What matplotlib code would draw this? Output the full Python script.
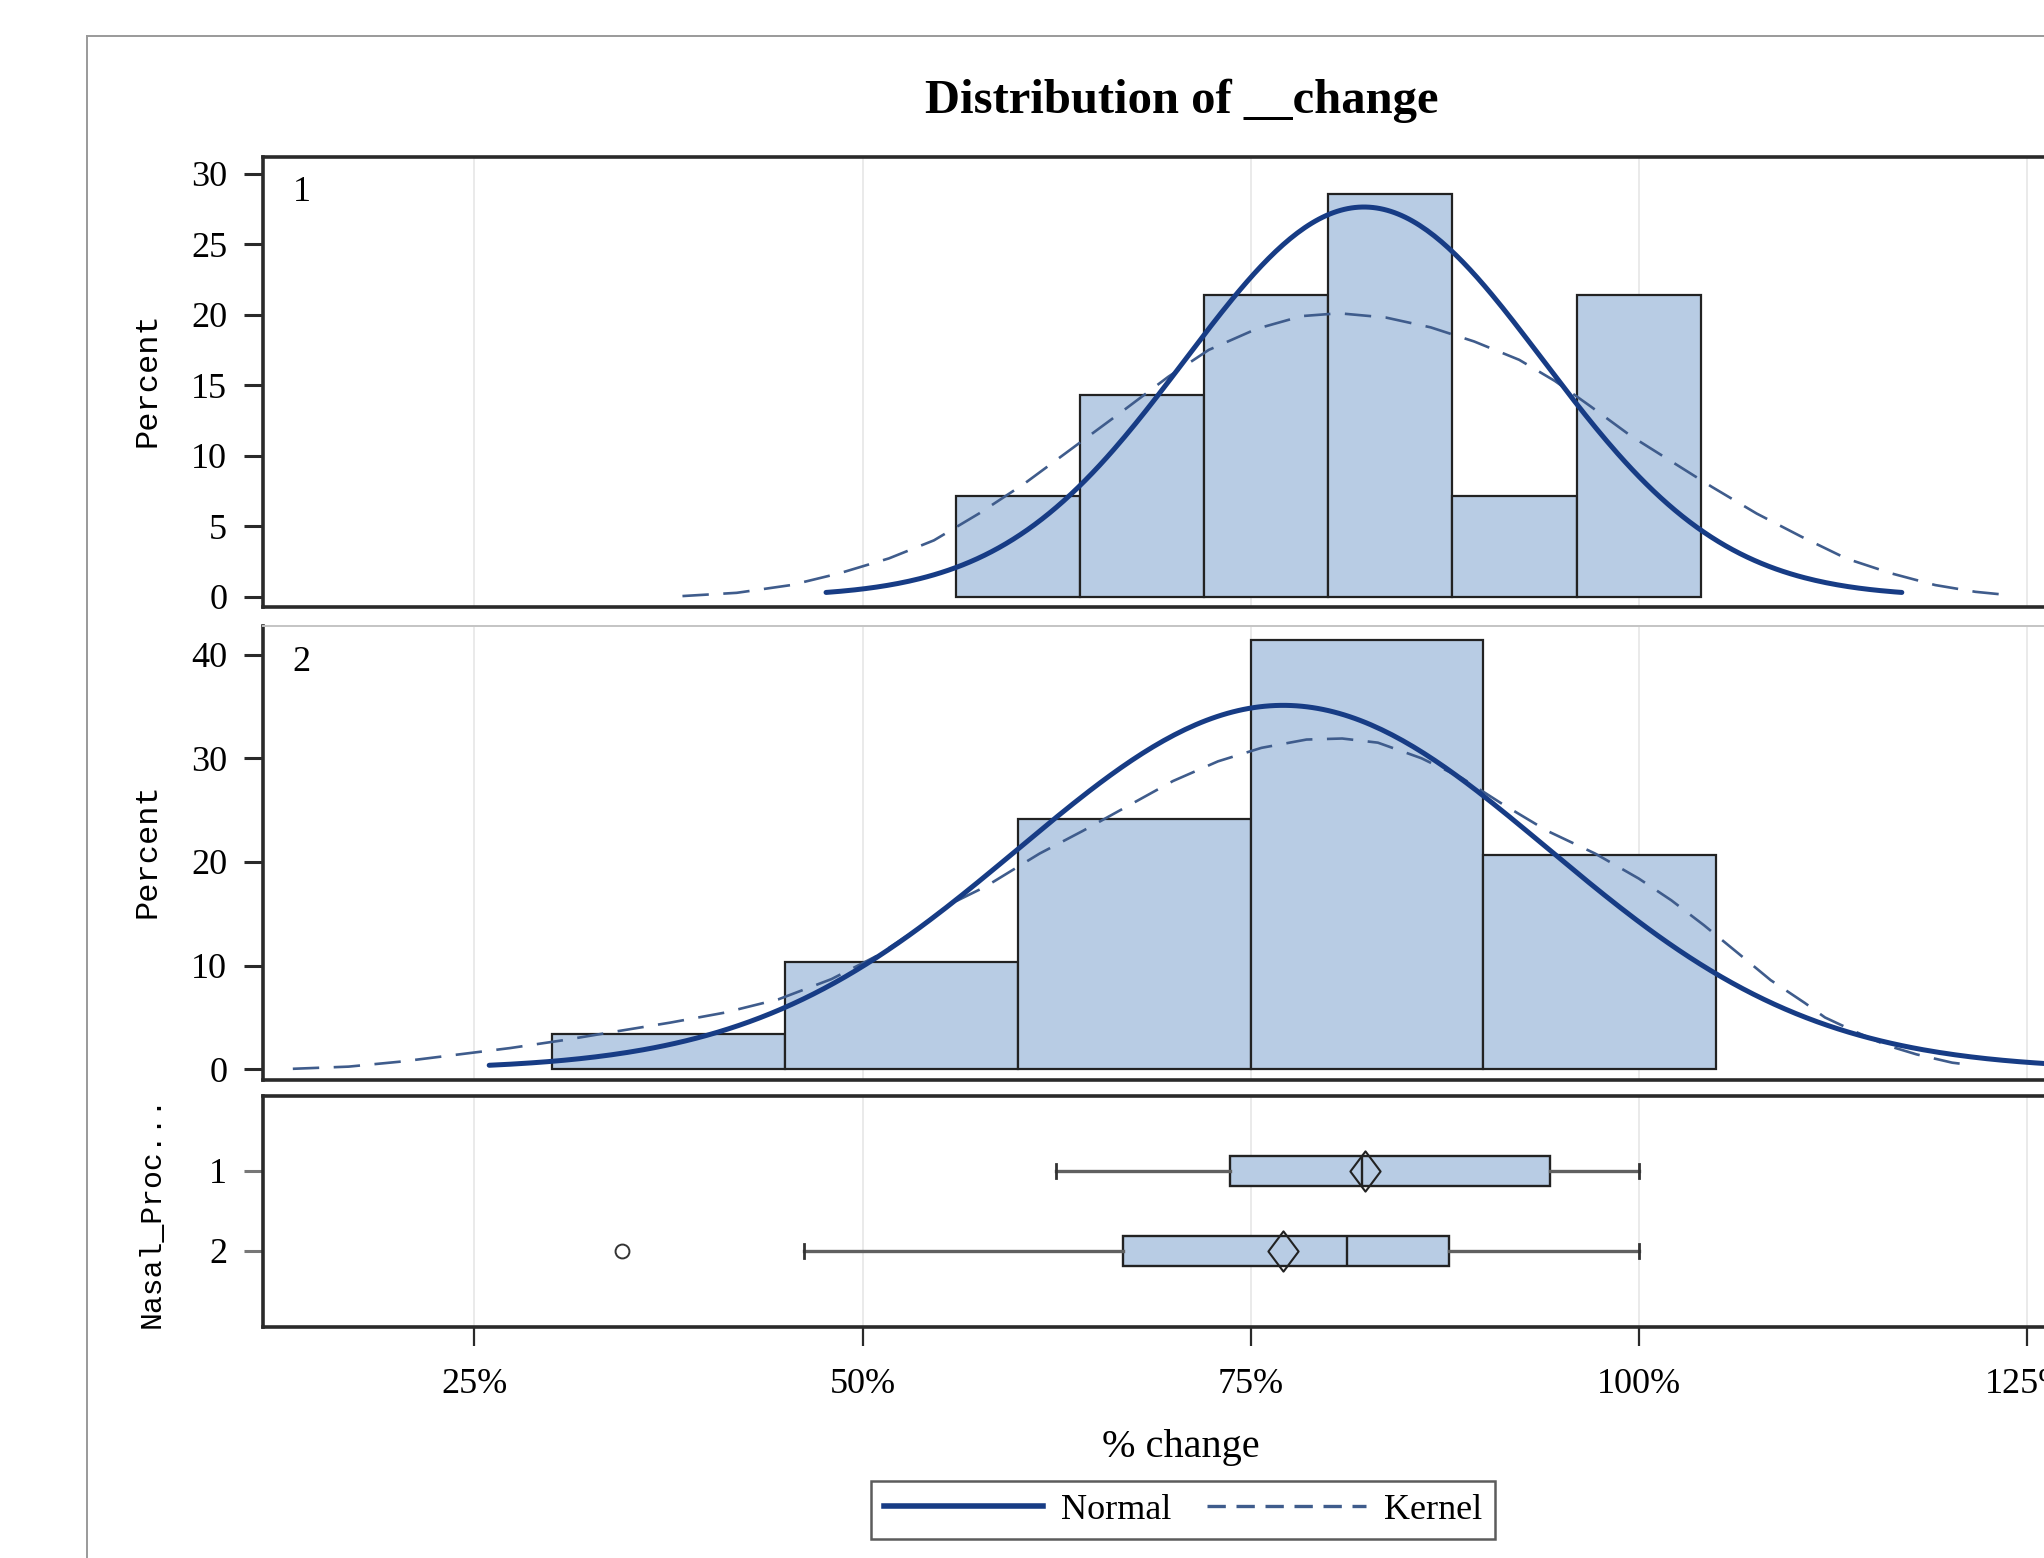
import numpy as np
import matplotlib
matplotlib.use("Agg")
import matplotlib.pyplot as plt
from matplotlib.lines import Line2D
from matplotlib.path import Path

# ---- data ------------------------------------------------------------------
# group 1 histogram (percent change bins, percent of subjects)
G1_EDGES = [56, 64, 72, 80, 88, 96]
G1_WIDTH = 8
G1_PERCENT = [7.14, 14.29, 21.43, 28.57, 7.14, 21.43]
# group 2 histogram
G2_EDGES = [30, 45, 60, 75, 90]
G2_WIDTH = 15
G2_PERCENT = [3.45, 10.34, 24.14, 41.38, 20.69]

# fitted normal curves: (mean, std dev)
G1_NORMAL = (82.3, 11.55)
G2_NORMAL = (77.1, 17.05)

# kernel density curves
G1_KERNEL_X = [38.4, 41.9, 45.4, 48.5, 51.7, 54.6, 57.5, 60.4, 63.6, 66.8, 69.7,
               72.3, 75.4, 78.3, 80.7, 83.7, 86.6, 89.4, 92.3, 94.6, 96.9, 99.5,
               102.1, 104.7, 107.6, 110.5, 113.4, 116.3, 119.1, 121.7, 124.0]
G1_KERNEL_Y = [0.05, 0.28, 0.83, 1.66, 2.72, 4.0, 5.9, 8.0, 10.6, 13.2, 15.6,
               17.5, 19.0, 19.9, 20.1, 19.8, 19.1, 18.1, 16.8, 15.3, 13.5, 11.4,
               9.6, 7.8, 5.9, 4.25, 2.7, 1.65, 0.83, 0.35, 0.1]
G2_KERNEL_X = [13.3, 16.9, 20.3, 23.8, 27.3, 30.7, 34.2, 37.6, 41.1, 44.6, 48.0,
               51.0, 53.5, 55.6, 57.9, 61.4, 64.2, 67.1, 70.0, 72.9, 75.7, 78.6,
               80.9, 83.2, 86.0, 88.6, 91.2, 94.1, 97.2, 100.0, 102.1, 104.2,
               106.4, 108.5, 110.7, 112.0, 114.0, 116.0, 117.9, 120.2, 121.5]
G2_KERNEL_Y = [0.05, 0.26, 0.75, 1.4, 2.05, 2.8, 3.67, 4.5, 5.46, 6.76, 8.7,
               11.0, 13.5, 15.9, 17.6, 20.8, 23.0, 25.4, 27.8, 29.7, 31.0, 31.8,
               31.9, 31.5, 30.0, 28.1, 25.6, 23.0, 20.8, 18.4, 16.3, 13.9,
               11.2, 8.6, 6.4, 5.0, 3.6, 2.3, 1.44, 0.64, 0.4]

# box plot summary per Nasal_Proc group
BOX_LABELS = ["1", "2"]
BOX_WHISLO = [62.45, 46.2]
BOX_Q1 = [73.7, 66.8]
BOX_MEDIAN = [82.2, 81.2]
BOX_Q3 = [94.3, 87.8]
BOX_WHISHI = [100.0, 100.0]
BOX_MEAN = [82.4, 77.1]
BOX_OUTLIERS = [[], [34.5]]

X_TICKS = [25, 50, 75, 100, 125]
X_TICK_LABELS = ["25%", "50%", "75%", "100%", "125%"]

# ---- style ------------------------------------------------------------------
W, H = 2044, 1558
SERIF = "Liberation Serif"
MONO = "Liberation Mono"
BAR_FILL = "#b8cce4"
EDGE = "#222222"
NORMAL_COLOR = "#173c85"
KERNEL_COLOR = "#3f5c8c"
GRID = "#e4e4e4"
FRAME = "#2a2a2a"
XLIM = (11.36, 142.6)


def px_axes(fig, left, top, right, bottom):
    """Add axes given pixel edges measured from the top-left corner."""
    return fig.add_axes([left / W, 1 - bottom / H, (right - left) / W, (bottom - top) / H])


def style_axes(ax, top_color=FRAME, top_lw=2.6):
    ax.set_xlim(*XLIM)
    ax.set_xticks(X_TICKS)
    for x in X_TICKS:
        ax.axvline(x, color=GRID, lw=1.1, zorder=0)
    for side in ("left", "bottom"):
        ax.spines[side].set_color(FRAME)
        ax.spines[side].set_linewidth(2.6)
    ax.spines["top"].set_color(top_color)
    ax.spines["top"].set_linewidth(top_lw)
    ax.spines["right"].set_visible(False)
    ax.tick_params(axis="y", direction="out", length=13.5, width=2.2, color=FRAME,
                   pad=12, labelsize=26)
    for lab in ax.get_yticklabels():
        lab.set_fontfamily(SERIF)


def draw_hist(ax, edges, width, percent, normal, kx, ky, panel_label):
    ax.bar(edges, percent, width=width, align="edge", color=BAR_FILL,
           edgecolor=EDGE, linewidth=1.6, zorder=2)
    mu, sd = normal
    xs = np.linspace(mu - 3 * sd, mu + 3 * sd, 300)
    ys = 100 * width * np.exp(-0.5 * ((xs - mu) / sd) ** 2) / (sd * np.sqrt(2 * np.pi))
    ax.plot(kx, ky, color=KERNEL_COLOR, lw=1.9, dashes=(10, 5.5), zorder=3)
    ax.plot(xs, ys, color=NORMAL_COLOR, lw=3.6, zorder=4, solid_capstyle="round")
    ax.tick_params(axis="x", bottom=False, labelbottom=False)
    ax.text(30 / ((XLIM[1] - XLIM[0]) * 15.525), 0.92, panel_label,
            transform=ax.transAxes, fontsize=26, family=SERIF, va="center")


fig = plt.figure(figsize=(W / 100, H / 100), dpi=100)

# outer frame of the SAS graph (only left and top edges are inside the crop)
fig.add_artist(Line2D([87 / W, 87 / W], [0, 1 - 36 / H], color="#9a9a9a", lw=1.4))
fig.add_artist(Line2D([87 / W, 1], [1 - 36 / H, 1 - 36 / H], color="#9a9a9a", lw=1.4))

fig.text(1182 / W, 1 - 101 / H, "Distribution of __change", ha="center", va="center",
         fontsize=35, fontweight="bold", family=SERIF)

# panel 1
ax1 = px_axes(fig, 262.7, 156.7, 2300, 606.5)
ax1.set_ylim(-0.69, 31.2)
ax1.set_yticks([0, 5, 10, 15, 20, 25, 30])
style_axes(ax1)
draw_hist(ax1, G1_EDGES, G1_WIDTH, G1_PERCENT, G1_NORMAL, G1_KERNEL_X, G1_KERNEL_Y, "1")

# panel 2
ax2 = px_axes(fig, 262.7, 626, 2300, 1080)
ax2.set_ylim(-1.03, 42.75)
ax2.set_yticks([0, 10, 20, 30, 40])
style_axes(ax2, top_color="#c4c4c4", top_lw=1.4)
draw_hist(ax2, G2_EDGES, G2_WIDTH, G2_PERCENT, G2_NORMAL, G2_KERNEL_X, G2_KERNEL_Y, "2")

# panel 3: box plots
ax3 = px_axes(fig, 262.7, 1096, 2300, 1327.3)
stats = []
for i, lab in enumerate(BOX_LABELS):
    stats.append({"label": lab, "whislo": BOX_WHISLO[i], "q1": BOX_Q1[i],
                  "med": BOX_MEDIAN[i], "q3": BOX_Q3[i], "whishi": BOX_WHISHI[i],
                  "mean": BOX_MEAN[i], "fliers": BOX_OUTLIERS[i]})
diamond = Path([(0, -1), (0.75, 0), (0, 1), (-0.75, 0), (0, -1)],
               [Path.MOVETO, Path.LINETO, Path.LINETO, Path.LINETO, Path.CLOSEPOLY])
ax3.bxp(stats, positions=[1, 2], orientation="horizontal", widths=0.375,
        capwidths=0.18, patch_artist=True, showmeans=True,
        boxprops=dict(facecolor=BAR_FILL, edgecolor=EDGE, linewidth=1.7),
        whiskerprops=dict(color="#606060", linewidth=2.4),
        capprops=dict(color="#333333", linewidth=2.0),
        medianprops=dict(color=EDGE, linewidth=1.7),
        meanprops=dict(marker=diamond, markerfacecolor="none", markeredgecolor=EDGE,
                       markersize=29, markeredgewidth=1.5),
        flierprops=dict(marker="o", markerfacecolor="none", markeredgecolor="#333333",
                        markersize=10, markeredgewidth=1.4))
ax3.set_ylim(2.957, 0.066)
style_axes(ax3)
ax3.set_yticks([1, 2])
ax3.set_yticklabels(BOX_LABELS, fontsize=26, family=SERIF)
ax3.tick_params(axis="y", color="#777777")
ax3.set_xticks(X_TICKS)
ax3.set_xticklabels(X_TICK_LABELS, fontsize=26, family=SERIF)
ax3.tick_params(axis="x", direction="out", length=13.5, width=1.6, color=FRAME, pad=16)

# axis titles
fig.text(148 / W, 1 - 380 / H, "Percent", rotation=90, ha="center", va="center",
         fontsize=23, family=MONO)
fig.text(148 / W, 1 - 851 / H, "Percent", rotation=90, ha="center", va="center",
         fontsize=23, family=MONO)
fig.text(152 / W, 1 - 1212 / H, "Nasal_Proc...", rotation=90, ha="center", va="center",
         fontsize=21.5, family=MONO)
fig.text(1181 / W, 1 - 1447 / H, "% change", ha="center", va="center",
         fontsize=29, family=SERIF)

handles = [Line2D([], [], color=NORMAL_COLOR, lw=4.0),
           Line2D([], [], color=KERNEL_COLOR, lw=2.4, dashes=(5.5, 3.2))]
leg = fig.legend(handles, ["Normal", "Kernel"], loc="center",
                 bbox_to_anchor=(1183 / W, 1 - 1510 / H), ncol=2, frameon=True,
                 fancybox=False, edgecolor="#333333", handlelength=4.4,
                 handletextpad=0.5, columnspacing=1.0, borderpad=0.35,
                 prop={"family": SERIF, "size": 26})
leg.get_frame().set_linewidth(1.8)

fig.savefig("out.png", dpi=100)
